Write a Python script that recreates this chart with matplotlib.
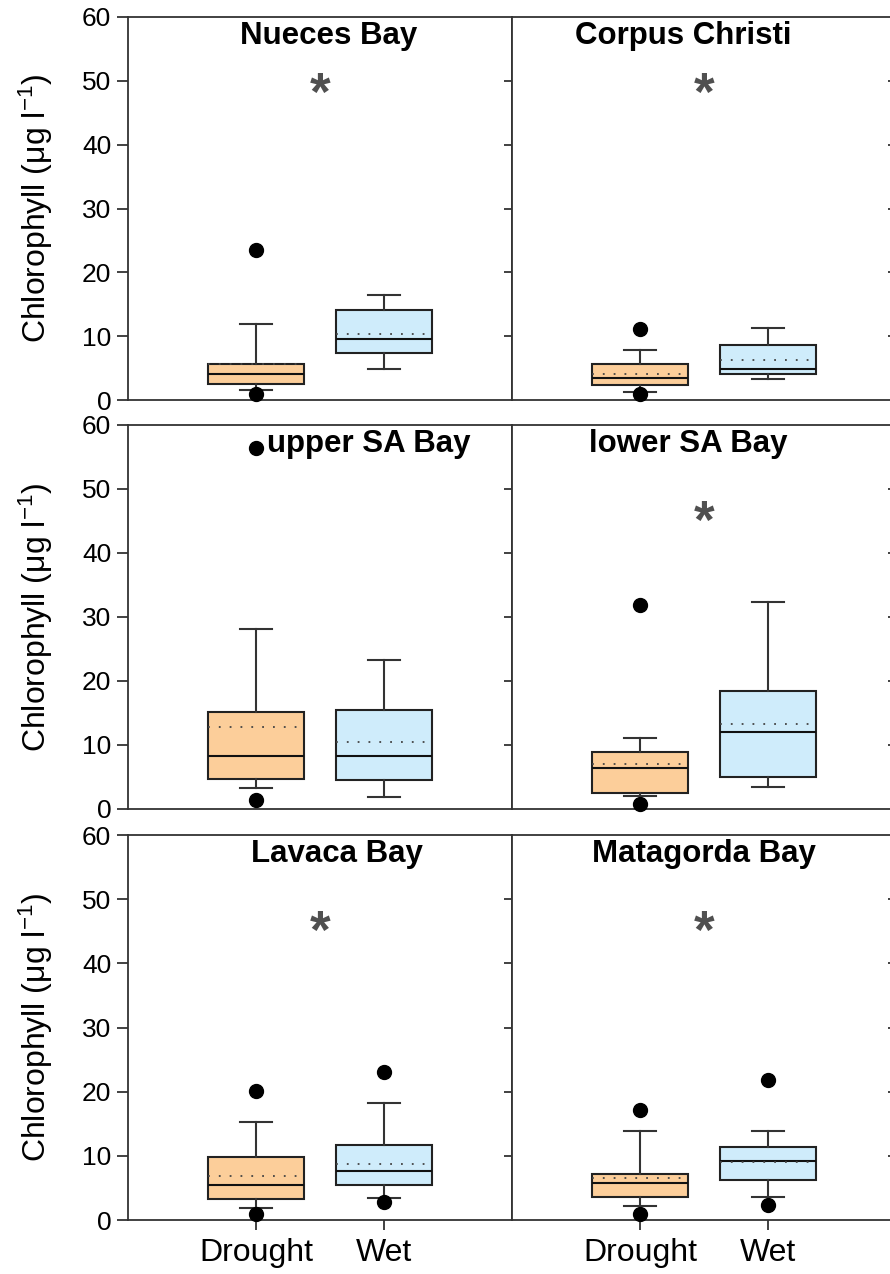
import numpy as np
import matplotlib
matplotlib.use("Agg")
import matplotlib.pyplot as plt

plt.rcParams['font.family'] = 'Liberation Sans'
plt.rcParams['mathtext.fontset'] = 'custom'
plt.rcParams['mathtext.rm'] = 'Liberation Sans'
plt.rcParams['mathtext.it'] = 'Liberation Sans:italic'

# Chlorophyll (ug/l) box summaries for each bay, drought vs wet periods
sites = ['Nueces Bay', 'Corpus Christi', 'upper SA Bay',
         'lower SA Bay', 'Lavaca Bay', 'Matagorda Bay']
groups = ['Drought', 'Wet']

# drought period
d_lo = [1.5, 1.3, 3.3, 2.1, 1.8, 2.2]
d_q1 = [2.5, 2.3, 4.7, 2.5, 3.3, 3.6]
d_med = [4.0, 3.45, 8.3, 6.35, 5.4, 5.8]
d_q3 = [5.6, 5.6, 15.2, 8.9, 9.8, 7.1]
d_hi = [11.9, 7.8, 28.1, 11.1, 15.2, 13.8]
d_mean = [5.7, 4.1, 12.75, 7.1, 6.8, 6.5]
d_out = [[1.0, 23.5], [1.0, 11.1], [1.45, 56.4],
         [0.8, 31.9], [1.0, 20.1], [1.0, 17.1]]

# wet period
w_lo = [4.9, 3.3, 1.9, 3.5, 3.5, 3.6]
w_q1 = [7.3, 4.1, 4.5, 5.0, 5.4, 6.2]
w_med = [9.5, 4.9, 8.3, 12.1, 7.6, 9.2]
w_q3 = [14.1, 8.6, 15.5, 18.5, 11.7, 11.4]
w_hi = [16.5, 11.3, 23.3, 32.3, 18.2, 13.8]
w_mean = [10.3, 6.3, 10.4, 13.3, 8.8, 9.0]
w_out = [[], [], [], [], [2.85, 23.0], [2.3, 21.8]]

# significant difference between periods
signif = [True, True, False, True, True, True]

# label placement
title_x = [1.57, 1.34, 1.88, 1.375, 1.63, 1.5]
star_y = [47.6, 47.6, 0, 44.5, 44.6, 44.6]

box_colors = ['#FCCE9A', '#CFECFB']
line_col = '#333333'

W, H = 890, 1274
fig = plt.figure(figsize=(W / 100, H / 100), dpi=100)
rows = [(17, 400), (425, 809), (835, 1220)]
cols = [(128, 512), (512, 896)]


def rect(x0, x1, y0, y1):
    return [x0 / W, 1 - y1 / H, (x1 - x0) / W, (y1 - y0) / H]


for i, name in enumerate(sites):
    r, c = divmod(i, 2)
    ax = fig.add_axes(rect(cols[c][0], cols[c][1], rows[r][0], rows[r][1]))

    stats = [
        dict(whislo=d_lo[i], q1=d_q1[i], med=d_med[i], q3=d_q3[i],
             whishi=d_hi[i], mean=d_mean[i], fliers=d_out[i]),
        dict(whislo=w_lo[i], q1=w_q1[i], med=w_med[i], q3=w_q3[i],
             whishi=w_hi[i], mean=w_mean[i], fliers=w_out[i]),
    ]
    bp = ax.bxp(stats, positions=[1, 2], widths=0.75, capwidths=0.25,
                patch_artist=True, showmeans=True, meanline=True,
                boxprops=dict(edgecolor='#222222', linewidth=1.5),
                medianprops=dict(color='#111111', linewidth=1.5),
                meanprops=dict(color='#444444', linestyle=(0, (1, 5)), linewidth=1.3),
                whiskerprops=dict(color=line_col, linewidth=1.5),
                capprops=dict(color=line_col, linewidth=1.5),
                flierprops=dict(marker='o', markerfacecolor='black',
                                markeredgecolor='black', markersize=10))
    for patch, col in zip(bp['boxes'], box_colors):
        patch.set_facecolor(col)
    for fl in bp['fliers']:
        fl.set_clip_on(False)
        fl.set_zorder(5)

    ax.set_xlim(0, 3)
    ax.set_ylim(0, 60)
    for sp in ax.spines.values():
        sp.set_color(line_col)
        sp.set_linewidth(1.3)

    ax.set_yticks(np.arange(0, 61, 10))
    if c == 0:
        ax.tick_params(axis='y', direction='out', length=8, width=1.3,
                       color=line_col, labelsize=19, pad=4)
        ax.set_ylabel('Chlorophyll (μg l$^{-1}$)', fontsize=23)
        ax.yaxis.set_label_coords(-0.19, 0.5)
    else:
        ax.tick_params(axis='y', left=False, labelleft=False)

    sec = ax.secondary_yaxis('right')
    sec.set_yticks(np.arange(10, 51, 10))
    sec.tick_params(direction='in', length=6, width=1.3, color=line_col,
                    labelright=False)
    sec.spines['right'].set_visible(False)

    ax.set_xticks([1, 2])
    if r == 2:
        ax.set_xticklabels(groups)
        ax.tick_params(axis='x', direction='out', length=7, width=1.3,
                       color=line_col, labelsize=23, pad=6)
    else:
        ax.tick_params(axis='x', bottom=False, labelbottom=False)

    ax.text(title_x[i], 57, name, ha='center', va='center',
            fontsize=22.5, fontweight='bold')
    if signif[i]:
        ax.text(1.5, star_y[i], '*', ha='center', va='center',
                fontsize=38, fontweight='bold', color='#505050')

fig.savefig('out.png', dpi=100)
